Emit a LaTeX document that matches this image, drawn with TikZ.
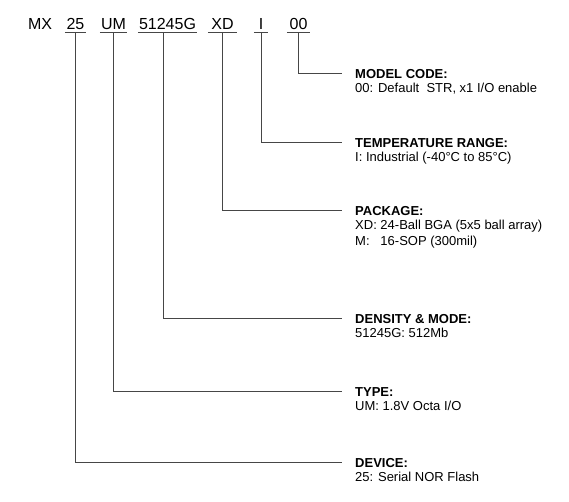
\documentclass[tikz,border=0pt]{standalone}
\usepackage{fontspec}
\setmainfont{Liberation Sans}
\usetikzlibrary{positioning,calc}
\definecolor{leadcol}{RGB}{70,70,70}

\begin{document}
\begin{tikzpicture}[
  x=1pt, y=-1pt,
  code/.style={
    font=\fontsize{16}{19}\selectfont,
    anchor=base,
    inner xsep=0pt,
    inner ysep=3pt,
    text depth=0pt
  },
  title/.style={
    font=\fontsize{13}{16}\selectfont\bfseries,
    anchor=base west,
    inner sep=0pt
  },
  desc/.style={
    font=\fontsize{13}{16}\selectfont,
    anchor=base west,
    inner sep=0pt
  },
  lead/.style={draw=leadcol, line width=1pt},
  uline/.style={draw=leadcol, line width=1pt}
]
\useasboundingbox (0,0) rectangle (569,502);

% ========== Part number ==========
\node[code] (c-mx) at (40,29.5) {MX};
\node[code, minimum width=21pt] (c-25) at (75.5,29.5) {25};
\node[code, minimum width=27pt] (c-um) at (113.5,29.5) {UM};
\node[code, minimum width=59pt] (c-dens) at (167.5,29.5) {51245G};
\node[code, minimum width=29pt] (c-xd) at (222.5,29.5) {XD};
\node[code, minimum width=14pt] (c-i) at (261,29.5) {I};
\node[code, minimum width=23pt] (c-00) at (298.5,29.5) {00};

% underlines
\foreach \n in {c-25,c-um,c-dens,c-xd,c-i,c-00}
  \draw[uline] (\n.south west) -- (\n.south east);

% ========== Line ends ==========
\coordinate (model-e) at (342,74);
\coordinate (temp-e)  at (342,143);
\coordinate (pkg-e)   at (342,211);
\coordinate (dens-e)  at (342,318);
\coordinate (type-e)  at (342,391);
\coordinate (dev-e)   at (342,462);

% ========== Labels ==========
\node[title] (model-t) at ($(model-e)+(13,5)$) {MODEL CODE:};
\node[desc] (model-d) at ($(model-t.base west)+(0,14)$) {00: Default~~STR, x1 I/O enable};

\node[title] (temp-t) at ($(temp-e)+(13,5)$) {TEMPERATURE RANGE:};
\node[desc] (temp-d) at ($(temp-t.base west)+(0,14)$) {I: Industrial (-40°C to 85°C)};

\node[title] (pkg-t) at ($(pkg-e)+(13,5)$) {PACKAGE:};
\node[desc] (pkg-d1) at ($(pkg-t.base west)+(0,14)$) {XD: 24-Ball BGA (5x5 ball array)};
\node[desc] (pkg-d2) at ($(pkg-d1.base west)+(0,16)$) {\rlap{M:}\phantom{XD: }16-SOP (300mil)};

\node[title] (dens-t) at ($(dens-e)+(13,5)$) {DENSITY \& MODE:};
\node[desc] (dens-d) at ($(dens-t.base west)+(0,14)$) {51245G: 512Mb};

\node[title] (type-t) at ($(type-e)+(13,5)$) {TYPE:};
\node[desc] (type-d) at ($(type-t.base west)+(0,14)$) {UM: 1.8V Octa I/O};

\node[title] (dev-t) at ($(dev-e)+(13,5)$) {DEVICE:};
\node[desc] (dev-d) at ($(dev-t.base west)+(0,14)$) {25: Serial NOR Flash};

% ========== Leaders ==========
\draw[lead] (c-00.south) |- (model-e);
\draw[lead] (c-i.south) |- (temp-e);
\draw[lead] (c-xd.south) |- (pkg-e);
\draw[lead] ([xshift=-4.5pt]c-dens.south) |- (dens-e);
\draw[lead] (c-um.south) |- (type-e);
\draw[lead] (c-25.south) |- (dev-e);

\end{tikzpicture}
\end{document}
